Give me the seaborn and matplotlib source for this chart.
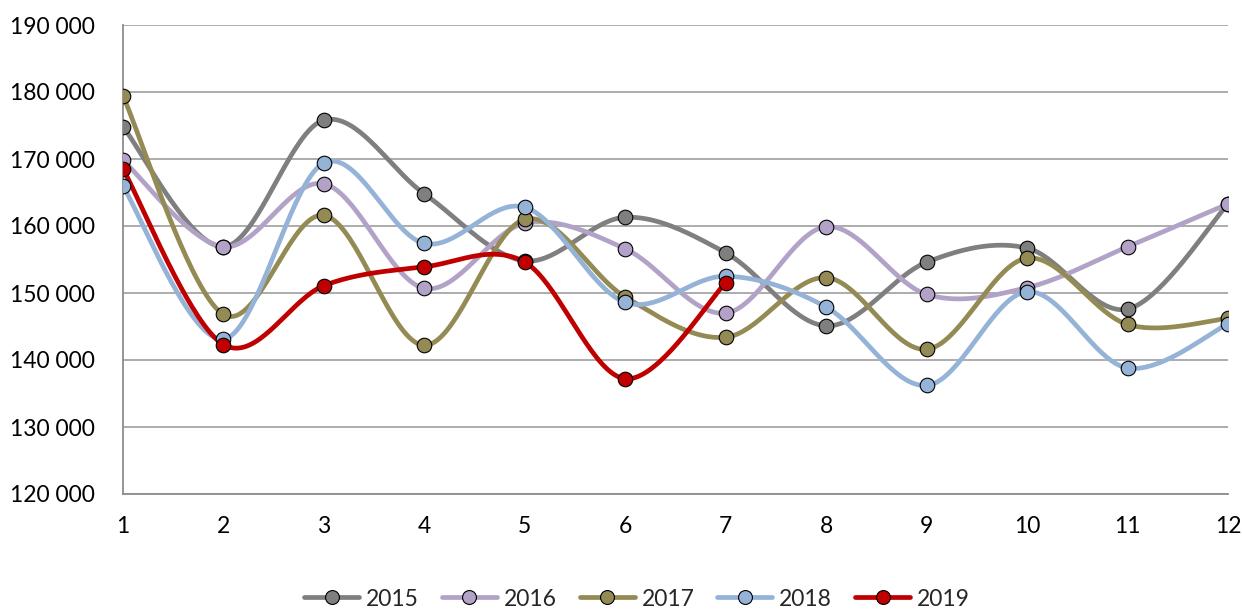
import numpy as np
import pandas as pd
import matplotlib
matplotlib.use("Agg")
import matplotlib.pyplot as plt
from matplotlib.lines import Line2D
from matplotlib.ticker import FuncFormatter
import seaborn as sns

# Monthly values
months = [1, 2, 3, 4, 5, 6, 7, 8, 9, 10, 11, 12]
y2015 = [174800, 156900, 175800, 164800, 154800, 161300, 156000, 145100, 154600, 156700, 147600, 163300]
y2016 = [169800, 156900, 166300, 150700, 160400, 156600, 147000, 159900, 149800, 150800, 156900, 163300]
y2017 = [179400, 146800, 161600, 142200, 161000, 149400, 143400, 152300, 141600, 155200, 145300, 146200]
y2018 = [165900, 143100, 169400, 157400, 162800, 148600, 152500, 147900, 136200, 150200, 138800, 145400]
y2019 = [168500, 142300, 151100, 153900, 154600, 137200, 151500]

series = {"2015": y2015, "2016": y2016, "2017": y2017, "2018": y2018, "2019": y2019}
colors = {"2015": "#7F7F7F", "2016": "#B3A2C7", "2017": "#948A54",
          "2018": "#95B3D7", "2019": "#C00000"}


def smooth(xs, ys, n=40):
    """Excel-style smoothed line (Catmull-Rom bezier through the points)."""
    pts = np.column_stack([xs, ys]).astype(float)
    out = []
    for i in range(len(pts) - 1):
        p0 = pts[i - 1] if i > 0 else pts[i]
        p1, p2 = pts[i], pts[i + 1]
        p3 = pts[i + 2] if i + 2 < len(pts) else pts[i + 1]
        c1 = p1 + (p2 - p0) / 6
        c2 = p2 - (p3 - p1) / 6
        t = np.linspace(0, 1, n)[:, None]
        seg = ((1 - t) ** 3) * p1 + 3 * ((1 - t) ** 2) * t * c1 + 3 * (1 - t) * t ** 2 * c2 + t ** 3 * p2
        out.append(seg if i == 0 else seg[1:])
    return np.vstack(out)


sns.set_style("white")
plt.rcParams["font.family"] = ["Lato", "DejaVu Sans"]

fig = plt.figure(figsize=(12.42, 6.10), dpi=100)
ax = fig.add_axes([123 / 1242, 1 - 494 / 610, (1228 - 123) / 1242, (494 - 25) / 610])

rows = []
pts = []
for year, vals in series.items():
    curve = smooth(months[:len(vals)], vals)
    rows.append(pd.DataFrame({"x": curve[:, 0], "y": curve[:, 1], "year": year}))
    pts.append(pd.DataFrame({"x": months[:len(vals)], "y": vals, "year": year}))
curves = pd.concat(rows)
points = pd.concat(pts)

sns.lineplot(data=curves, x="x", y="y", hue="year", units="year", estimator=None, sort=False,
             palette=colors, linewidth=3.4, legend=False, ax=ax)
for year in series:
    sns.scatterplot(data=points[points["year"] == year], x="x", y="y", color=colors[year],
                    s=110, edgecolor="black", linewidth=0.8, zorder=5, legend=False, ax=ax)

ax.set_xlim(1, 12)
ax.set_ylim(120000, 190000)
ax.set_xticks(months)
ax.set_yticks(range(120000, 190001, 10000))
ax.yaxis.set_major_formatter(FuncFormatter(lambda v, p: f"{int(v):,}".replace(",", " ")))
ax.grid(axis="y", color="#A6A6A6", linewidth=1.3)
ax.set_axisbelow(True)
ax.set_xlabel("")
ax.set_ylabel("")
for side in ["top", "right"]:
    ax.spines[side].set_visible(False)
for side in ["left", "bottom"]:
    ax.spines[side].set_color("#8C8C8C")
    ax.spines[side].set_linewidth(1.3)
ax.tick_params(axis="both", length=7, width=1.2, color="#8C8C8C", labelsize=16.5, labelcolor="black", direction="out")
ax.tick_params(axis="x", pad=9)
ax.tick_params(axis="y", pad=13)

handles = [Line2D([0], [0], color=colors[y], linewidth=3.4, marker="o", markersize=10,
                  markerfacecolor=colors[y], markeredgecolor="black", markeredgewidth=0.8)
           for y in series]
fig.legend(handles, list(series.keys()), loc="center", bbox_to_anchor=(637 / 1242, 1 - 599 / 610),
           ncol=5, frameon=False, fontsize=16.5, handlelength=2.4, columnspacing=1.0, handletextpad=0.3)

fig.savefig("out.png", dpi=100)
